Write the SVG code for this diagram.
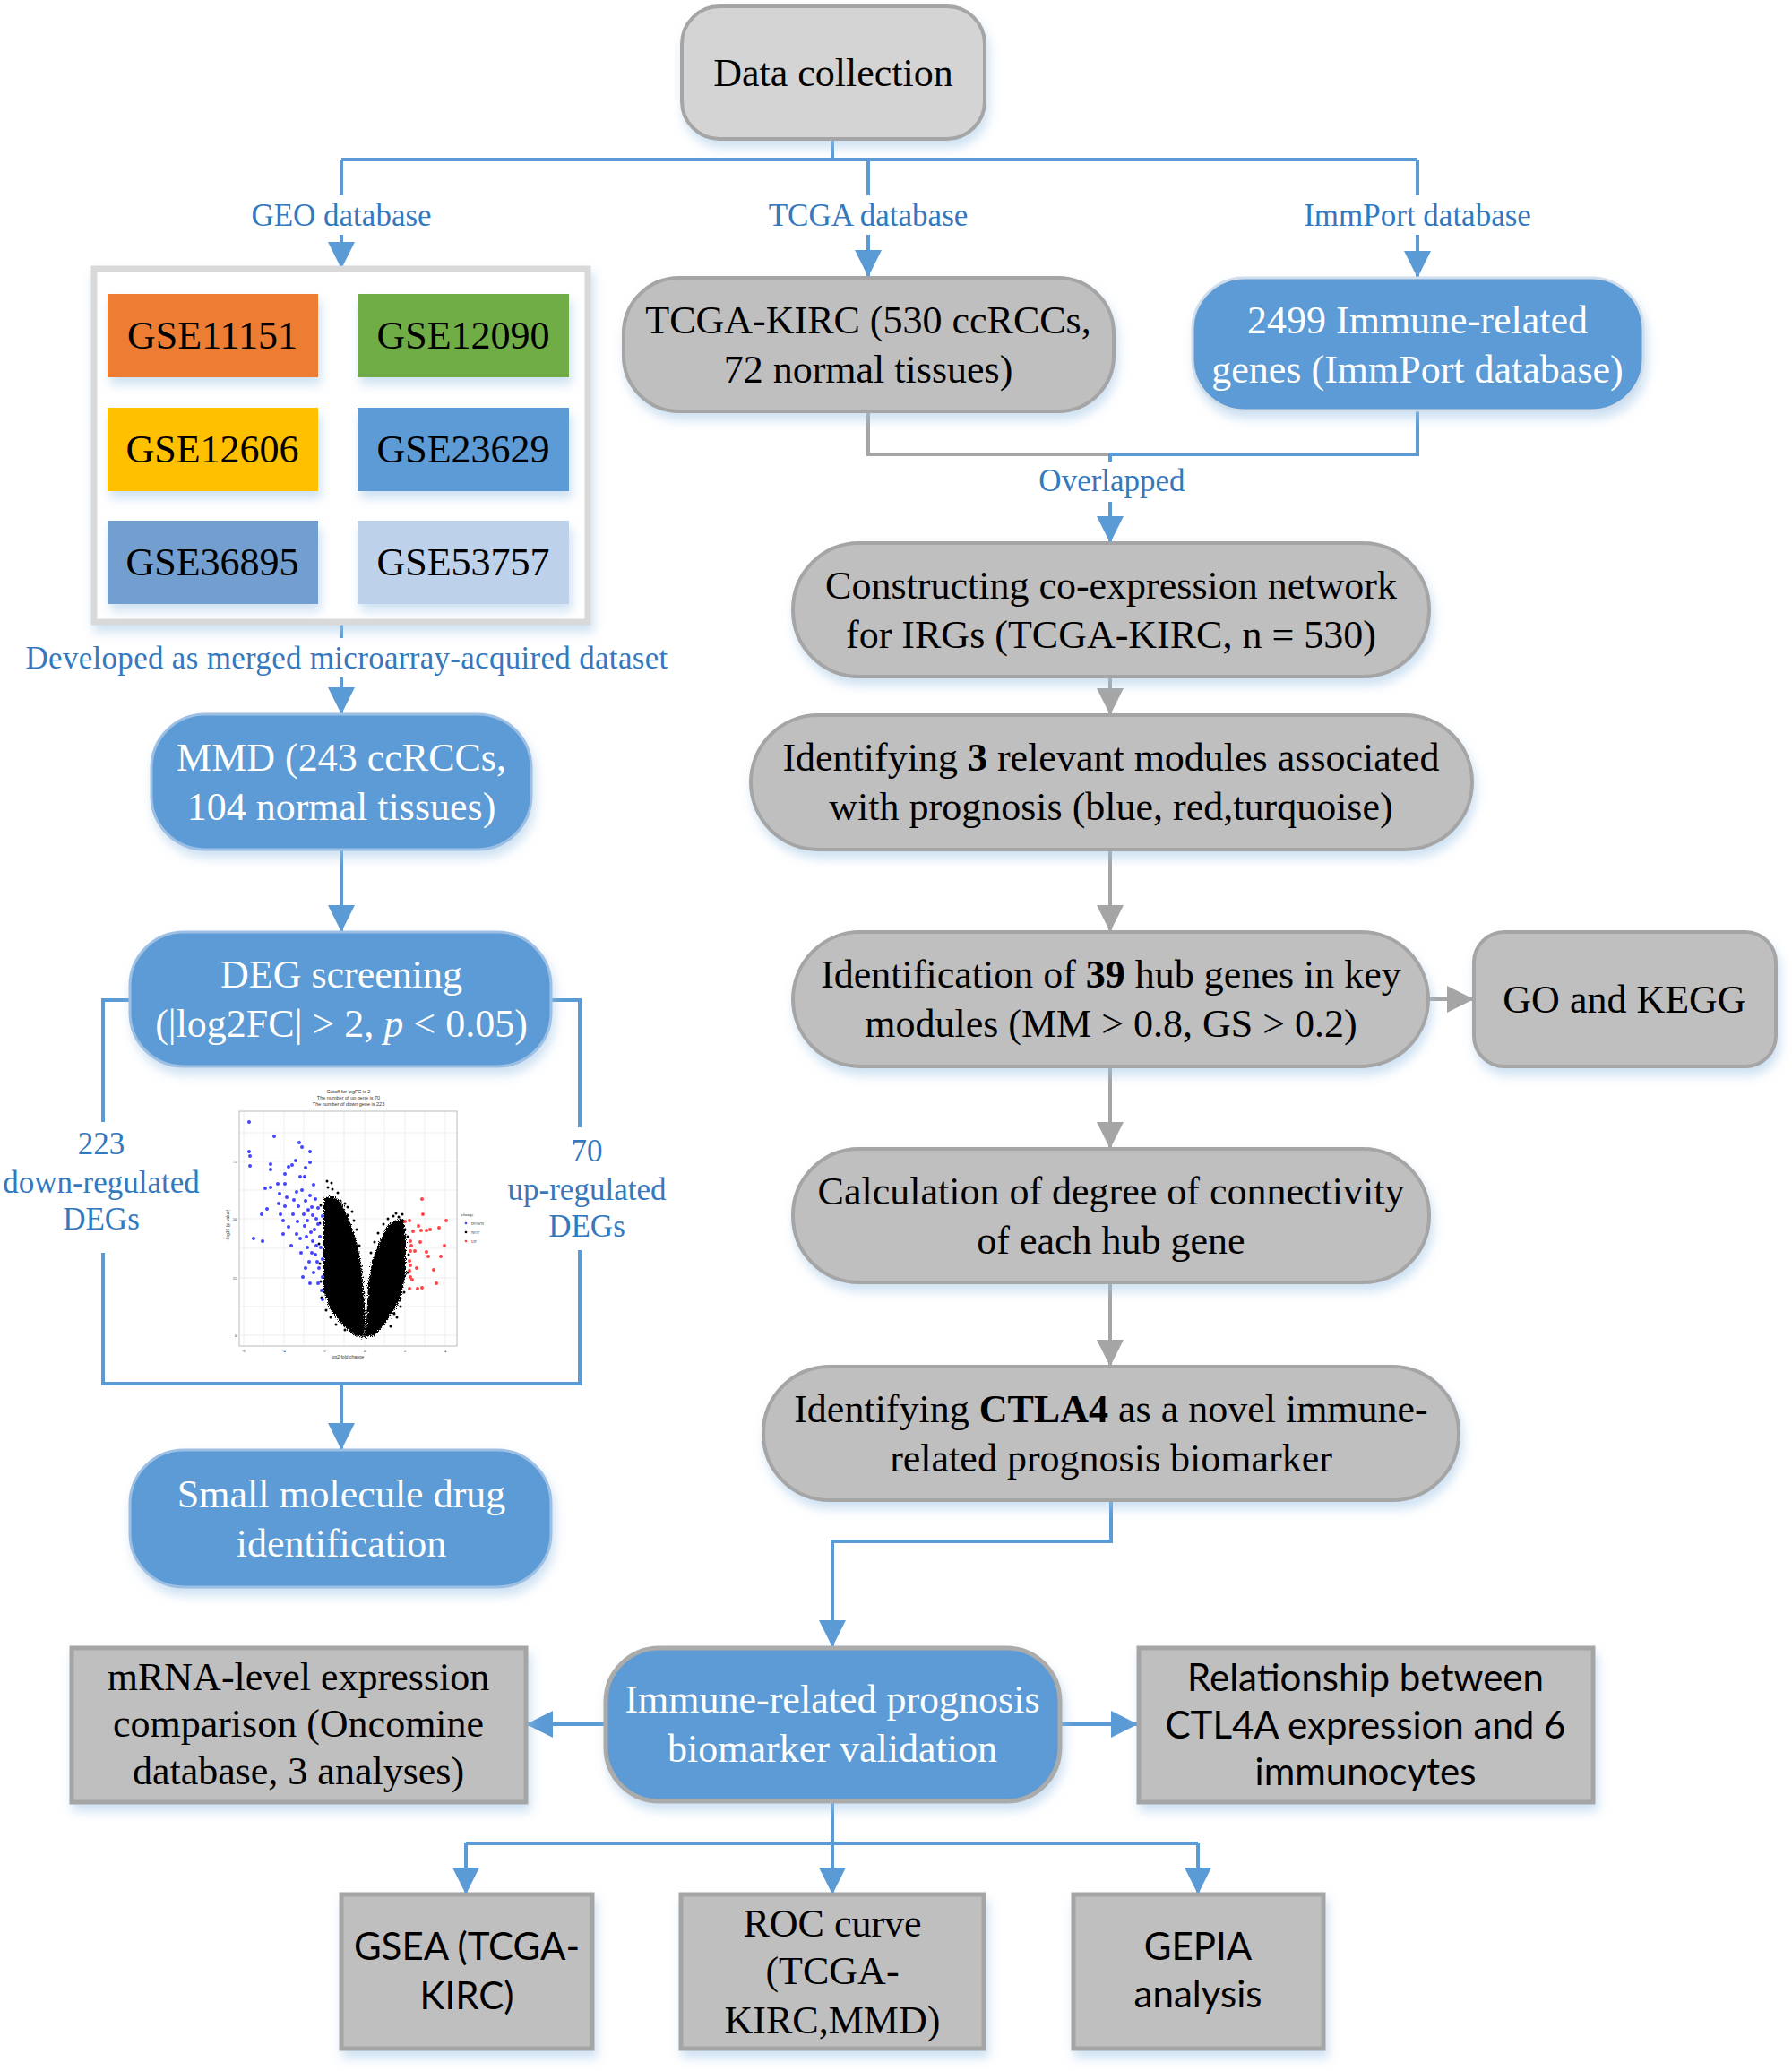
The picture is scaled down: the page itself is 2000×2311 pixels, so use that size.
<svg xmlns="http://www.w3.org/2000/svg" width="2000" height="2311" viewBox="0 0 2000 2311">
<defs>
<filter id="sh" x="-10%" y="-15%" width="125%" height="145%">
<feDropShadow dx="3" dy="8" stdDeviation="6" flood-color="#9DC3E6" flood-opacity="0.5"/>
</filter>
<filter id="rough" x="-10%" y="-10%" width="120%" height="120%">
<feTurbulence type="fractalNoise" baseFrequency="0.9" numOctaves="2" seed="3" result="n"/>
<feDisplacementMap in="SourceGraphic" in2="n" scale="7" xChannelSelector="R" yChannelSelector="G"/>
</filter>
<marker id="ab" markerUnits="userSpaceOnUse" markerWidth="30" markerHeight="30" refX="30" refY="15" orient="auto" viewBox="0 0 30 30">
<path d="M0,0 L30,15 L0,30 Z" fill="#5B9BD5"/>
</marker>
<marker id="ag" markerUnits="userSpaceOnUse" markerWidth="30" markerHeight="30" refX="30" refY="15" orient="auto" viewBox="0 0 30 30">
<path d="M0,0 L30,15 L0,30 Z" fill="#A5A5A5"/>
</marker>
<style>
text{font-family:"Liberation Serif","Times New Roman",serif;}
.t{font-size:44px;fill:#000;text-anchor:middle;}
.tw{font-size:44px;fill:#fff;text-anchor:middle;}
.ts{font-family:Lato,"Liberation Sans",sans-serif;font-size:42px;fill:#000;text-anchor:middle;}
.lb{font-size:35px;fill:#3478BE;text-anchor:middle;}
.gp{fill:#BFBFBF;stroke:#A5A5A5;stroke-width:4;}
.gr{fill:#BFBFBF;stroke:#A5A5A5;stroke-width:5;}
.bp{fill:#5B9BD5;stroke:#9DBFE4;stroke-width:3;}
.cb{fill:none;stroke:#5B9BD5;stroke-width:4;}
.cg{fill:none;stroke:#A5A5A5;stroke-width:4;}
.vt{font-family:"Liberation Sans",Arial,sans-serif;fill:#333;text-anchor:middle;}
.gl{stroke:#EBEBEB;stroke-width:0.8;}
</style>
</defs>
<rect width="2000" height="2311" fill="#fff"/>

<g id="connectors">
<path class="cb" d="M929,155 V178"/>
<path class="cb" d="M381,178 H1582"/>
<path class="cb" d="M381,178 V218"/>
<path class="cb" d="M381,262 V300" marker-end="url(#ab)"/>
<path class="cb" d="M969,178 V218"/>
<path class="cb" d="M969,262 V309" marker-end="url(#ab)"/>
<path class="cb" d="M1582,178 V218"/>
<path class="cb" d="M1582,262 V310" marker-end="url(#ab)"/>
<path class="cb" d="M381,697 V712"/>
<path class="cb" d="M381,756 V797" marker-end="url(#ab)"/>
<path class="cb" d="M381,948 V1040" marker-end="url(#ab)"/>
<path class="cb" d="M145,1116 H115 V1252"/>
<path class="cb" d="M115,1398 V1544 H647 V1395"/>
<path class="cb" d="M615,1116 H647 V1258"/>
<path class="cb" d="M381,1544 V1618" marker-end="url(#ab)"/>
<path class="cg" d="M969,459 V507 H1239"/>
<path class="cb" d="M1582,458 V507 H1239 V515"/>
<path class="cb" d="M1239,560 V606" marker-end="url(#ab)"/>
<path class="cg" d="M1239,755 V798" marker-end="url(#ag)"/>
<path class="cg" d="M1239,948 V1040" marker-end="url(#ag)"/>
<path class="cg" d="M1239,1190 V1282" marker-end="url(#ag)"/>
<path class="cg" d="M1239,1431 V1525" marker-end="url(#ag)"/>
<path class="cg" d="M1594,1115 H1645" marker-end="url(#ag)"/>
<path class="cb" d="M1240,1674 V1720 H929 V1838" marker-end="url(#ab)"/>
<path class="cb" d="M675,1924 H587" marker-end="url(#ab)"/>
<path class="cb" d="M1183,1924 H1270" marker-end="url(#ab)"/>
<path class="cb" d="M929,2010 V2114" marker-end="url(#ab)"/>
<path class="cb" d="M520,2057 H1337"/>
<path class="cb" d="M520,2057 V2114" marker-end="url(#ab)"/>
<path class="cb" d="M1337,2057 V2114" marker-end="url(#ab)"/>
<text class="lb" x="381" y="252">GEO database</text>
<text class="lb" x="969" y="252">TCGA database</text>
<text class="lb" x="1582" y="252">ImmPort database</text>
<text class="lb" x="387" y="746" letter-spacing="0.3">Developed as merged microarray-acquired dataset</text>
<text class="lb" x="1241" y="548">Overlapped</text>
<text class="lb" x="113" y="1288">223</text>
<text class="lb" x="113" y="1331">down-regulated</text>
<text class="lb" x="113" y="1372">DEGs</text>
<text class="lb" x="655" y="1296">70</text>
<text class="lb" x="655" y="1339">up-regulated</text>
<text class="lb" x="655" y="1380">DEGs</text>
</g>

<g id="data-collection">
<rect x="761" y="7" width="338" height="148" rx="42" fill="#D4D4D4" stroke="#A5A5A5" stroke-width="4" filter="url(#sh)"/>
<text class="t" x="930" y="96">Data collection</text>
</g>

<g id="geo-datasets">
<rect x="105" y="300" width="551" height="394" fill="#fff" stroke="#D9D9D9" stroke-width="7" filter="url(#sh)"/>
<rect x="120" y="328" width="235" height="93" fill="#ED7D31" filter="url(#sh)"/>
<rect x="399" y="328" width="236" height="93" fill="#70AD47" filter="url(#sh)"/>
<rect x="120" y="455" width="235" height="93" fill="#FFC000" filter="url(#sh)"/>
<rect x="399" y="455" width="236" height="93" fill="#5B9BD5" filter="url(#sh)"/>
<rect x="120" y="581" width="235" height="93" fill="#729FCF" filter="url(#sh)"/>
<rect x="399" y="581" width="236" height="93" fill="#BDD1EA" filter="url(#sh)"/>
<text class="t" x="237" y="389">GSE11151</text>
<text class="t" x="517" y="389">GSE12090</text>
<text class="t" x="237" y="516">GSE12606</text>
<text class="t" x="517" y="516">GSE23629</text>
<text class="t" x="237" y="642">GSE36895</text>
<text class="t" x="517" y="642">GSE53757</text>
</g>

<g id="tcga-kirc">
<rect x="696" y="310" width="547" height="149" rx="62" class="gp" filter="url(#sh)"/>
<text class="t" x="969" y="372">TCGA-KIRC (530 ccRCCs,</text>
<text class="t" x="969" y="427">72 normal tissues)</text>
</g>

<g id="immport-genes">
<rect x="1331" y="310" width="503" height="148" rx="58" fill="#5B9BD5" stroke="#D0DDEB" stroke-width="3" filter="url(#sh)"/>
<text class="tw" x="1582" y="372">2499 Immune-related</text>
<text class="tw" x="1582" y="427">genes (ImmPort database)</text>
</g>

<g id="mmd">
<rect x="169" y="797" width="424" height="151" rx="60" class="bp" filter="url(#sh)"/>
<text class="tw" x="381" y="860">MMD (243 ccRCCs,</text>
<text class="tw" x="381" y="915">104 normal tissues)</text>
</g>

<g id="deg-screening">
<rect x="145" y="1040" width="470" height="150" rx="60" class="bp" filter="url(#sh)"/>
<text class="tw" x="381" y="1102">DEG screening</text>
<text class="tw" x="381" y="1157">(|log2FC| &gt; 2, <tspan font-style="italic">p</tspan> &lt; 0.05)</text>
</g>

<g id="volcano-plot">
<text class="vt" x="389" y="1220" font-size="5.5">Cutoff for logFC is 2</text>
<text class="vt" x="389" y="1227" font-size="5.5">The number of up gene is 70</text>
<text class="vt" x="389" y="1234" font-size="5.5">The number of down gene is 223</text>
<rect x="267" y="1240" width="243" height="262" fill="#fff"/>
<g class="gl">
<line x1="267" y1="1296" x2="510" y2="1296"/><line x1="267" y1="1360" x2="510" y2="1360"/><line x1="267" y1="1426" x2="510" y2="1426"/><line x1="267" y1="1490" x2="510" y2="1490"/>
<line x1="267" y1="1264" x2="510" y2="1264"/><line x1="267" y1="1328" x2="510" y2="1328"/><line x1="267" y1="1393" x2="510" y2="1393"/><line x1="267" y1="1458" x2="510" y2="1458"/>
<line x1="272" y1="1240" x2="272" y2="1502"/><line x1="317" y1="1240" x2="317" y2="1502"/><line x1="362" y1="1240" x2="362" y2="1502"/><line x1="407" y1="1240" x2="407" y2="1502"/><line x1="452" y1="1240" x2="452" y2="1502"/><line x1="497" y1="1240" x2="497" y2="1502"/>
<line x1="294" y1="1240" x2="294" y2="1502"/><line x1="339" y1="1240" x2="339" y2="1502"/><line x1="384" y1="1240" x2="384" y2="1502"/><line x1="429" y1="1240" x2="429" y2="1502"/><line x1="474" y1="1240" x2="474" y2="1502"/>
</g>
<rect x="267" y="1240" width="243" height="262" fill="none" stroke="#BBBBBB" stroke-width="1"/>
<g fill="#000" filter="url(#rough)">
<path d="M361,1338 L372,1334 L383,1345 L391,1365 L398,1385 L403,1410 L406,1440 L408,1475 L407,1492 L395,1490 L380,1476 L368,1460 L361,1440 Z"/>
<path d="M409,1475 L411,1432 L416,1405 L424,1385 L432,1368 L440,1362 L450,1360 L453,1380 L453,1420 L447,1450 L431,1476 L418,1490 L407,1492 Z"/>
</g>
<g fill="#000">
<circle cx="366" cy="1325" r="1.5"/><circle cx="371" cy="1327" r="1.5"/><circle cx="380" cy="1340" r="1.5"/><circle cx="385" cy="1343" r="1.5"/><circle cx="383" cy="1350" r="1.5"/><circle cx="439" cy="1357" r="1.5"/><circle cx="445" cy="1358" r="1.5"/><circle cx="452" cy="1372" r="1.5"/><circle cx="364" cy="1462" r="1.5"/><circle cx="369" cy="1470" r="1.5"/><circle cx="375" cy="1478" r="1.5"/><circle cx="436" cy="1480" r="1.5"/><circle cx="443" cy="1470" r="1.5"/><circle cx="388" cy="1356" r="1.5"/>
<circle cx="365" cy="1318" r="1.5"/><circle cx="370" cy="1320" r="1.5"/><circle cx="377" cy="1331" r="1.5"/><circle cx="388" cy="1347" r="1.5"/><circle cx="393" cy="1352" r="1.5"/><circle cx="395" cy="1362" r="1.5"/><circle cx="398" cy="1372" r="1.5"/><circle cx="401" cy="1390" r="1.5"/><circle cx="358" cy="1345" r="1.5"/><circle cx="357" cy="1365" r="1.5"/><circle cx="356" cy="1388" r="1.5"/><circle cx="357" cy="1410" r="1.5"/><circle cx="358" cy="1430" r="1.5"/><circle cx="359" cy="1448" r="1.5"/>
<circle cx="428" cy="1366" r="1.5"/><circle cx="433" cy="1360" r="1.5"/><circle cx="442" cy="1354" r="1.5"/><circle cx="449" cy="1355" r="1.5"/><circle cx="422" cy="1376" r="1.5"/><circle cx="418" cy="1386" r="1.5"/><circle cx="414" cy="1398" r="1.5"/><circle cx="455" cy="1380" r="1.5"/><circle cx="456" cy="1400" r="1.5"/><circle cx="455" cy="1420" r="1.5"/><circle cx="451" cy="1442" r="1.5"/><circle cx="447" cy="1458" r="1.5"/><circle cx="440" cy="1466" r="1.5"/><circle cx="385" cy="1484" r="1.5"/>
</g>
<g fill="#4444FF">
<circle cx="278" cy="1252" r="2"/><circle cx="278" cy="1285" r="2"/><circle cx="279" cy="1290" r="2"/><circle cx="279" cy="1301" r="2"/><circle cx="306" cy="1268" r="2"/><circle cx="334" cy="1275" r="2"/><circle cx="337" cy="1280" r="2"/><circle cx="346" cy="1285" r="2"/><circle cx="330" cy="1295" r="2"/><circle cx="346" cy="1297" r="2"/><circle cx="302" cy="1299" r="2"/><circle cx="302" cy="1305" r="2"/><circle cx="326" cy="1300" r="2"/><circle cx="322" cy="1302" r="2"/><circle cx="341" cy="1303" r="2"/><circle cx="318" cy="1310" r="2"/><circle cx="335" cy="1313" r="2"/><circle cx="340" cy="1313" r="2"/><circle cx="318" cy="1321" r="2"/><circle cx="302" cy="1325" r="2"/><circle cx="296" cy="1326" r="2"/><circle cx="310" cy="1321" r="2"/><circle cx="350" cy="1322" r="2"/><circle cx="331" cy="1330" r="2"/><circle cx="337" cy="1328" r="2"/><circle cx="346" cy="1334" r="2"/><circle cx="312" cy="1332" r="2"/><circle cx="320" cy="1336" r="2"/><circle cx="328" cy="1339" r="2"/><circle cx="341" cy="1340" r="2"/><circle cx="352" cy="1338" r="2"/><circle cx="311" cy="1343" r="2"/><circle cx="318" cy="1346" r="2"/><circle cx="333" cy="1346" r="2"/><circle cx="348" cy="1347" r="2"/><circle cx="355" cy="1348" r="2"/><circle cx="292" cy="1355" r="2"/><circle cx="298" cy="1349" r="2"/><circle cx="313" cy="1355" r="2"/><circle cx="327" cy="1355" r="2"/><circle cx="339" cy="1355" r="2"/><circle cx="349" cy="1356" r="2"/><circle cx="360" cy="1357" r="2"/><circle cx="316" cy="1362" r="2"/><circle cx="332" cy="1363" r="2"/><circle cx="343" cy="1362" r="2"/><circle cx="355" cy="1366" r="2"/><circle cx="340" cy="1368" r="2"/><circle cx="322" cy="1369" r="2"/><circle cx="316" cy="1377" r="2"/><circle cx="331" cy="1377" r="2"/><circle cx="347" cy="1375" r="2"/><circle cx="357" cy="1380" r="2"/><circle cx="335" cy="1382" r="2"/><circle cx="349" cy="1385" r="2"/><circle cx="358" cy="1392" r="2"/><circle cx="343" cy="1392" r="2"/><circle cx="325" cy="1390" r="2"/><circle cx="336" cy="1398" r="2"/><circle cx="352" cy="1400" r="2"/><circle cx="360" cy="1405" r="2"/><circle cx="345" cy="1408" r="2"/><circle cx="356" cy="1415" r="2"/><circle cx="350" cy="1420" r="2"/><circle cx="360" cy="1425" r="2"/><circle cx="355" cy="1432" r="2"/><circle cx="359" cy="1440" r="2"/><circle cx="360" cy="1450" r="2"/><circle cx="283" cy="1382" r="2"/><circle cx="293" cy="1385" r="2"/><circle cx="346" cy="1432" r="2"/><circle cx="338" cy="1425" r="2"/>
<circle cx="353" cy="1360" r="2"/><circle cx="344" cy="1350" r="2"/><circle cx="351" cy="1372" r="2"/><circle cx="342" cy="1380" r="2"/><circle cx="353" cy="1390" r="2"/><circle cx="348" cy="1398" r="2"/><circle cx="354" cy="1408" r="2"/><circle cx="341" cy="1415" r="2"/>
</g>
<g fill="#FF4444">
<circle cx="471" cy="1338" r="2"/><circle cx="472" cy="1355" r="2"/><circle cx="457" cy="1362" r="2"/><circle cx="452" cy="1363" r="2"/><circle cx="467" cy="1368" r="2"/><circle cx="498" cy="1362" r="2"/><circle cx="461" cy="1374" r="2"/><circle cx="470" cy="1373" r="2"/><circle cx="476" cy="1373" r="2"/><circle cx="480" cy="1372" r="2"/><circle cx="490" cy="1370" r="2"/><circle cx="458" cy="1385" r="2"/><circle cx="469" cy="1386" r="2"/><circle cx="459" cy="1390" r="2"/><circle cx="496" cy="1390" r="2"/><circle cx="458" cy="1396" r="2"/><circle cx="463" cy="1396" r="2"/><circle cx="476" cy="1397" r="2"/><circle cx="478" cy="1402" r="2"/><circle cx="492" cy="1402" r="2"/><circle cx="457" cy="1407" r="2"/><circle cx="458" cy="1412" r="2"/><circle cx="465" cy="1415" r="2"/><circle cx="457" cy="1418" r="2"/><circle cx="458" cy="1425" r="2"/><circle cx="484" cy="1417" r="2"/><circle cx="487" cy="1432" r="2"/><circle cx="466" cy="1438" r="2"/><circle cx="471" cy="1437" r="2"/><circle cx="457" cy="1438" r="2"/><circle cx="460" cy="1428" r="2"/>
</g>
<g class="vt" font-size="4.5">
<text x="272" y="1509">-6</text><text x="317" y="1509">-4</text><text x="362" y="1509">-2</text><text x="407" y="1509">0</text><text x="452" y="1509">2</text><text x="497" y="1509">4</text>
<text x="262" y="1298">75</text><text x="262" y="1362">50</text><text x="262" y="1428">25</text><text x="263" y="1492">0</text>
</g>
<text class="vt" x="388" y="1516" font-size="5">log2 fold change</text>
<text class="vt" x="0" y="0" font-size="5" transform="translate(256,1367) rotate(-90)">-log10 (p-value)</text>
<text x="515" y="1357" font-size="4.8" font-family="Liberation Sans,Arial,sans-serif" fill="#333">change</text>
<circle cx="520" cy="1365" r="1.3" fill="#4444FF"/><text x="526" y="1367" font-size="4.5" font-family="Liberation Sans,Arial,sans-serif" fill="#333">DOWN</text>
<circle cx="520" cy="1375" r="1.3" fill="#000"/><text x="526" y="1377" font-size="4.5" font-family="Liberation Sans,Arial,sans-serif" fill="#333">NOT</text>
<circle cx="520" cy="1385" r="1.3" fill="#FF4444"/><text x="526" y="1387" font-size="4.5" font-family="Liberation Sans,Arial,sans-serif" fill="#333">UP</text>
</g>

<g id="small-molecule">
<rect x="145" y="1618" width="470" height="153" rx="60" class="bp" filter="url(#sh)"/>
<text class="tw" x="381" y="1682">Small molecule drug</text>
<text class="tw" x="381" y="1737">identification</text>
</g>

<g id="co-expression">
<rect x="885" y="606" width="710" height="149" rx="74" class="gp" filter="url(#sh)"/>
<text class="t" x="1240" y="668">Constructing co-expression network</text>
<text class="t" x="1240" y="723">for IRGs (TCGA-KIRC, n = 530)</text>
</g>

<g id="modules">
<rect x="838" y="798" width="805" height="150" rx="75" class="gp" filter="url(#sh)"/>
<text class="t" x="1240" y="860">Identifying <tspan font-weight="bold">3</tspan> relevant modules associated</text>
<text class="t" x="1240" y="915">with prognosis (blue, red,turquoise)</text>
</g>

<g id="hub-genes">
<rect x="885" y="1040" width="709" height="150" rx="75" class="gp" filter="url(#sh)"/>
<text class="t" x="1240" y="1102">Identification of <tspan font-weight="bold">39</tspan> hub genes in key</text>
<text class="t" x="1240" y="1157">modules (MM &gt; 0.8, GS &gt; 0.2)</text>
</g>

<g id="go-kegg">
<rect x="1645" y="1040" width="337" height="150" rx="34" class="gp" filter="url(#sh)"/>
<text class="t" x="1813" y="1130">GO and KEGG</text>
</g>

<g id="connectivity">
<rect x="885" y="1282" width="710" height="149" rx="74" class="gp" filter="url(#sh)"/>
<text class="t" x="1240" y="1344">Calculation of degree of connectivity</text>
<text class="t" x="1240" y="1399">of each hub gene</text>
</g>

<g id="ctla4">
<rect x="852" y="1525" width="776" height="149" rx="74" class="gp" filter="url(#sh)"/>
<text class="t" x="1240" y="1587">Identifying <tspan font-weight="bold">CTLA4</tspan> as a novel immune-</text>
<text class="t" x="1240" y="1642">related prognosis biomarker</text>
</g>

<g id="validation">
<rect x="676" y="1839" width="507" height="171" rx="60" fill="#5B9BD5" stroke="#ABABAB" stroke-width="5" filter="url(#sh)"/>
<text class="tw" x="929" y="1911">Immune-related prognosis</text>
<text class="tw" x="929" y="1966">biomarker validation</text>
</g>

<g id="mrna">
<rect x="80" y="1839" width="507" height="172" class="gr" filter="url(#sh)"/>
<text class="t" x="333" y="1886">mRNA-level expression</text>
<text class="t" x="333" y="1938">comparison (Oncomine</text>
<text class="t" x="333" y="1991">database, 3 analyses)</text>
</g>

<g id="relationship">
<rect x="1271" y="1839" width="507" height="172" class="gr" filter="url(#sh)"/>
<text class="ts" x="1524" y="1887">Relationship between</text>
<text class="ts" x="1524" y="1940">CTL4A expression and 6</text>
<text class="ts" x="1524" y="1992">immunocytes</text>
</g>

<g id="gsea">
<rect x="381" y="2114" width="280" height="172" class="gr" filter="url(#sh)"/>
<text class="ts" x="521" y="2187">GSEA (TCGA-</text>
<text class="ts" x="521" y="2242">KIRC)</text>
</g>

<g id="roc">
<rect x="760" y="2114" width="338" height="172" class="gr" filter="url(#sh)"/>
<text class="t" x="929" y="2161">ROC curve</text>
<text class="t" x="929" y="2214">(TCGA-</text>
<text class="t" x="929" y="2269">KIRC,MMD)</text>
</g>

<g id="gepia">
<rect x="1198" y="2114" width="279" height="172" class="gr" filter="url(#sh)"/>
<text class="ts" x="1337" y="2187">GEPIA</text>
<text class="ts" x="1337" y="2240">analysis</text>
</g>
</svg>
